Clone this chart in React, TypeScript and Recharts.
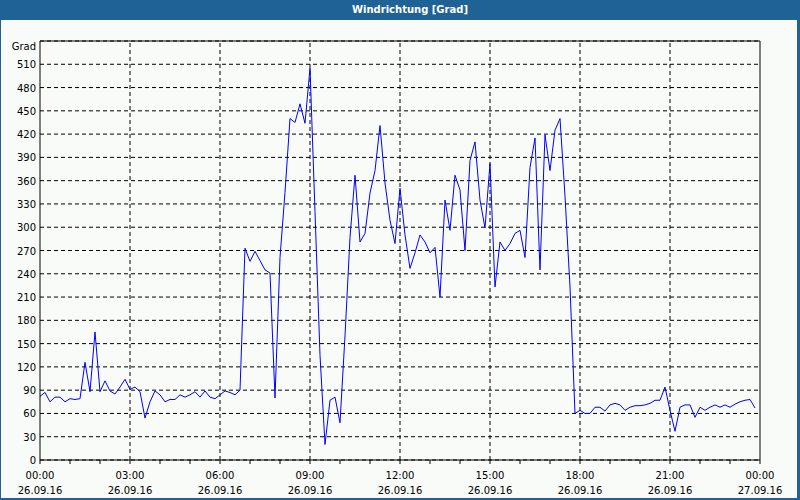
import { CartesianGrid, Line, LineChart, ReferenceLine, XAxis, YAxis } from "recharts";

// wind direction in degrees, one reading every 10 minutes from 26.09.16 00:00
const windDirection = [
  82, 87, 75, 81, 81, 75, 79, 78, 79, 126,
  88, 165, 88, 102, 89, 85, 94, 104, 91, 94,
  88, 54, 75, 89, 84, 75, 78, 78, 84, 81,
  84, 88, 81, 89, 81, 79, 84, 89, 87, 84,
  90, 273, 256, 269, 257, 245, 241, 80, 261, 345,
  440, 435, 459, 434, 505, 320, 135, 20, 77, 81,
  48, 160, 287, 367, 281, 292, 344, 373, 431, 357,
  309, 279, 350, 290, 247, 267, 290, 281, 267, 274,
  210, 335, 296, 367, 348, 270, 386, 410, 335, 299,
  382, 223, 281, 270, 279, 292, 296, 261, 377, 415,
  245, 419, 373, 425, 440, 340, 223, 60, 64, 60,
  60, 68, 68, 63, 71, 73, 71, 64, 68, 70,
  70, 71, 73, 77, 77, 94, 64, 37, 68, 71,
  71, 55, 68, 64, 68, 71, 68, 71, 68, 72,
  75, 77, 78, 67
];

const stepMinutes = 10;
const degreeTicks = [0, 30, 60, 90, 120, 150, 180, 210, 240, 270, 300, 330, 360, 390, 420, 450, 480, 510, 540];
const compassTicks = [0, 45, 90, 135, 180, 225, 270, 315, 360, 405, 450, 495, 540];
const compassNames = ["N", "NE", "E", "SE", "S", "SW", "W", "NW", "N", "NE", "E", "SE", "S"];
const hourTicks = Array.from({ length: 25 }, (_, i) => i * 60);
const labelledHours = [0, 180, 360, 540, 720, 900, 1080, 1260, 1440];
const font = "'DejaVu Sans', sans-serif";

const data = windDirection.map((value, i) => ({ minute: i * stepMinutes, value }));

function LeftTick({ x, y, payload }: any) {
  const top = payload.value === 540;
  return (
    <text x={x} y={y} dy={top ? 9 : 4} textAnchor="end" fontSize={10} fontFamily={font} fill="#000">
      {top ? "Grad" : payload.value}
    </text>
  );
}

function RightTick({ x, y, payload }: any) {
  const idx = compassTicks.indexOf(payload.value);
  return (
    <text x={x} y={y} dy={6} textAnchor="start" fontSize={10} fontFamily={font} fill="#000">
      {compassNames[idx]}
    </text>
  );
}

function TimeTick({ x, y, payload }: any) {
  const m = payload.value;
  if (m % 180 !== 0) return <g />;
  const hh = String((m / 60) % 24).padStart(2, "0");
  const date = m >= 1440 ? "27.09.16" : "26.09.16";
  return (
    <g>
      <text x={x} y={y + 13} textAnchor="middle" fontSize={10} fontFamily={font} fill="#000">
        {hh}:00
      </text>
      <text x={x} y={y + 28} textAnchor="middle" fontSize={10} fontFamily={font} fill="#000">
        {date}
      </text>
    </g>
  );
}

export default function App() {
  return (
    <div style={{ position: "absolute", left: 0, top: 0, width: 800, height: 500, background: "#f8fbf8" }}>
      <LineChart width={800} height={500} data={data} margin={{ top: 41, right: 0, bottom: 0, left: 0 }}>
        <CartesianGrid yAxisId="left" vertical={false} stroke="#000" strokeDasharray="4 3" />
        <XAxis
          type="number"
          dataKey="minute"
          domain={[0, 1440]}
          ticks={hourTicks}
          interval={0}
          height={40}
          tickSize={4}
          tickMargin={2}
          stroke="#000"
          tick={<TimeTick />}
        />
        <YAxis
          yAxisId="left"
          domain={[0, 540]}
          ticks={degreeTicks}
          interval={0}
          width={40}
          tickLine={false}
          tickSize={0}
          tickMargin={4}
          stroke="#000"
          tick={<LeftTick />}
        />
        <YAxis
          yAxisId="right"
          orientation="right"
          domain={[0, 540]}
          ticks={compassTicks}
          interval={0}
          width={40}
          tickSize={3}
          tickMargin={1}
          stroke="#000"
          tick={<RightTick />}
        />
        {labelledHours.slice(1, -1).map((m) => (
          <ReferenceLine key={m} x={m} yAxisId="left" stroke="#000" strokeDasharray="4 3" />
        ))}
        <ReferenceLine y={540} yAxisId="left" stroke="#000" />
        <Line
          yAxisId="left"
          type="linear"
          dataKey="value"
          stroke="#0000ff"
          strokeWidth={1}
          dot={false}
          isAnimationActive={false}
        />
      </LineChart>
      <div
        style={{
          position: "absolute",
          left: 0,
          top: 0,
          width: 800,
          height: 20,
          background: "#1f6396",
          color: "#fff",
          fontFamily: font,
          fontWeight: "bold",
          fontSize: 10,
          lineHeight: "20px",
          textAlign: "center",
          paddingLeft: 20,
          boxSizing: "border-box"
        }}
      >
        Windrichtung [Grad]
      </div>
      <div
        style={{
          position: "absolute",
          inset: 0,
          borderLeft: "1px solid #1f6396",
          borderRight: "3px solid #1f6396",
          borderBottom: "2px solid #1f6396",
          pointerEvents: "none"
        }}
      />
    </div>
  );
}
